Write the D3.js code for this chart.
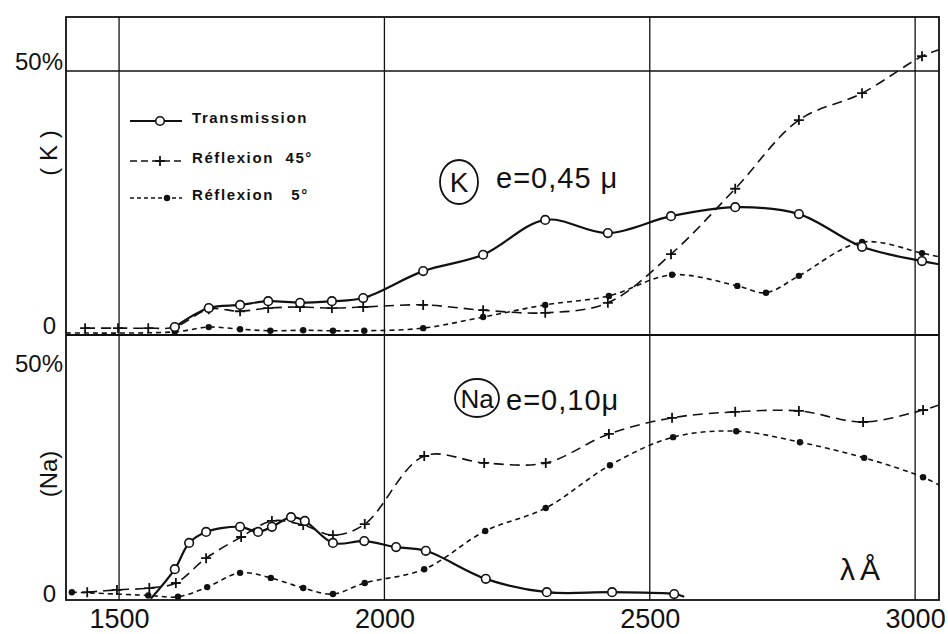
<!DOCTYPE html>
<html>
<head>
<meta charset="utf-8">
<script src="https://cdn.jsdelivr.net/npm/d3@7"></script>
<style>
body { margin: 0; background: #fff; }
svg { display: block; font-family: "Liberation Sans", Arial, sans-serif; }
</style>
</head>
<body>
<svg id="chart" width="948" height="634"></svg>
<script>
// wavelength ticks (Angstrom) and percent ticks
const xTicks = [1500, 2000, 2500, 3000];
const yTicks = [0, 50];

// --- K, e = 0,45 micron (top panel) ---
const kTransW = [1605, 1669, 1728, 1781, 1841, 1901, 1960, 2073, 2186, 2303, 2421, 2540, 2661, 2781, 2900, 3013, 3045];
const kTransV = [1.5, 5.1, 5.7, 6.4, 6.1, 6.4, 7.0, 12.1, 15.2, 21.8, 19.3, 22.5, 24.2, 22.9, 16.7, 14.0, 13.4];

const kRef45W = [1436, 1498, 1555, 1605, 1669, 1728, 1781, 1841, 1901, 1960, 2073, 2186, 2303, 2421, 2540, 2661, 2781, 2900, 3013, 3045];
const kRef45V = [1.3, 1.3, 1.3, 1.5, 4.9, 4.5, 5.1, 5.3, 5.1, 5.3, 5.7, 4.7, 4.2, 6.1, 15.3, 27.7, 40.7, 45.8, 52.8, 54.0];

const kRef5W = [1400, 1605, 1669, 1728, 1785, 1847, 1903, 1962, 2073, 2186, 2303, 2423, 2542, 2665, 2719, 2781, 2900, 3013, 3045];
const kRef5V = [0.4, 0.6, 1.5, 1.1, 0.8, 0.9, 0.8, 0.8, 1.3, 3.4, 5.7, 7.4, 11.4, 9.3, 8.0, 11.2, 17.6, 15.5, 14.8];

// --- Na, e = 0,10 micron (bottom panel) ---
const naTransW = [1560, 1605, 1632, 1664, 1728, 1762, 1788, 1824, 1850, 1903, 1962, 2022, 2078, 2191, 2306, 2429, 2546, 2565];
const naTransV = [0.3, 6.7, 12.4, 14.8, 15.9, 14.8, 15.9, 18.0, 17.2, 12.4, 12.8, 11.5, 10.7, 4.6, 1.7, 1.7, 1.3, 0.7];

const naRef45W = [1440, 1496, 1557, 1607, 1664, 1730, 1788, 1847, 1903, 1963, 2075, 2188, 2304, 2423, 2542, 2661, 2781, 2902, 3015, 3045];
const naRef45V = [1.7, 2.2, 2.6, 3.7, 9.1, 13.7, 17.2, 16.3, 14.1, 16.5, 31.3, 29.8, 29.8, 36.1, 39.6, 40.9, 41.1, 38.7, 41.3, 42.4];

const naRef5W = [1411, 1555, 1611, 1666, 1728, 1786, 1847, 1903, 1963, 2075, 2190, 2304, 2425, 2544, 2663, 2783, 2904, 3015, 3045];
const naRef5V = [1.7, 1.0, 0.7, 2.8, 5.9, 4.8, 2.6, 1.3, 3.7, 6.7, 15.0, 20.0, 29.3, 35.4, 36.7, 34.3, 30.9, 26.7, 25.0];

// points where the curve only runs on, without a drawn marker
const unmarked = [1400, 1560, 2565, 3045];

const legendLabels = ["Transmission", "Réflexion  45°", "Réflexion   5°"];

const svg = d3.select("#chart");

const x = d3.scaleLinear().domain([1400, 3045]).range([66, 939]);
const yTop = d3.scaleLinear().domain([0, 50]).range([335, 71]);
const yBot = d3.scaleLinear().domain([0, 50]).range([600, 370]);

const frameTop = 17, frameMid = 335, frameBot = 600;

// clip areas for the two panels
const defs = svg.append("defs");
defs.append("clipPath").attr("id", "clipTop").append("rect")
    .attr("x", x.range()[0]).attr("y", frameTop)
    .attr("width", x.range()[1] - x.range()[0]).attr("height", frameMid - frameTop);
defs.append("clipPath").attr("id", "clipBot").append("rect")
    .attr("x", x.range()[0]).attr("y", frameMid)
    .attr("width", x.range()[1] - x.range()[0]).attr("height", frameBot - frameMid);

// grid: vertical lines through both panels, 50% line in the top one
svg.append("g").selectAll("line")
    .data(xTicks)
    .enter().append("line")
    .attr("x1", d => x(d)).attr("x2", d => x(d))
    .attr("y1", frameTop).attr("y2", frameBot)
    .style("stroke", "#111").style("stroke-width", 1.3);

svg.append("line")
    .attr("x1", x.range()[0]).attr("x2", x.range()[1])
    .attr("y1", yTop(50)).attr("y2", yTop(50))
    .style("stroke", "#111").style("stroke-width", 1.3);

// frame
svg.append("rect")
    .attr("x", x.range()[0]).attr("y", frameTop)
    .attr("width", x.range()[1] - x.range()[0]).attr("height", frameBot - frameTop)
    .style("fill", "none").style("stroke", "#111").style("stroke-width", 1.8);

svg.append("line")
    .attr("x1", x.range()[0]).attr("x2", x.range()[1])
    .attr("y1", frameMid).attr("y2", frameMid)
    .style("stroke", "#111").style("stroke-width", 1.8);

// axes
const xAxis = svg.append("g")
    .attr("transform", `translate(0, ${frameBot})`)
    .call(d3.axisBottom(x).tickValues(xTicks).tickSize(0).tickPadding(9).tickFormat(d3.format("d")));
xAxis.select(".domain").remove();
xAxis.selectAll("text").style("font-size", "27px").style("fill", "#111");

function yAxis(scale, dy) {
    const g = svg.append("g")
        .attr("transform", `translate(${x.range()[0]}, 0)`)
        .call(d3.axisLeft(scale).tickValues(yTicks).tickSize(0).tickPadding(3)
            .tickFormat(d => d === 0 ? "0" : d + "%"));
    g.select(".domain").remove();
    g.selectAll("text")
        .attr("dy", dy)
        .attr("x", d => d === 0 ? -10 : -3)
        .style("font-size", "24px").style("fill", "#111");
}
yAxis(yTop, "-0.08em");
yAxis(yBot, "0.08em");

// panel labels (rotated)
svg.append("text")
    .attr("transform", "translate(48, 153) rotate(-90)")
    .attr("text-anchor", "middle").attr("dominant-baseline", "central")
    .style("font-size", "24px").style("fill", "#111")
    .text("( K )");
svg.append("text")
    .attr("transform", "translate(48, 474) rotate(-90)")
    .attr("text-anchor", "middle").attr("dominant-baseline", "central")
    .style("font-size", "24px").style("fill", "#111")
    .text("(Na)");

// series
const styles = {
    trans: {dash: null, width: 2.2},
    ref45: {dash: "10,6", width: 1.6},
    ref5: {dash: "5,4", width: 1.6}
};

function pts(w, v) {
    return w.map((d, i) => ({w: d, v: v[i]}));
}

const line = d3.line().curve(d3.curveCatmullRom.alpha(0.5));

function drawSeries(data, yScale, clip, kind) {
    const st = styles[kind];
    const g = svg.append("g").attr("clip-path", `url(#${clip})`);
    g.append("path")
        .datum(data)
        .attr("d", line.x(d => x(d.w)).y(d => yScale(d.v)))
        .style("fill", "none")
        .style("stroke", "#111")
        .style("stroke-width", st.width)
        .style("stroke-dasharray", st.dash);

    const marked = data.filter(d => unmarked.indexOf(d.w) < 0);
    drawMarkers(g, marked.map(d => [x(d.w), yScale(d.v)]), kind);
}

function drawMarkers(g, xy, kind) {
    if (kind === "trans") {
        g.selectAll(null).data(xy).enter().append("circle")
            .attr("cx", d => d[0]).attr("cy", d => d[1]).attr("r", 4.3)
            .style("fill", "#fff").style("stroke", "#111").style("stroke-width", 1.6);
    } else if (kind === "ref45") {
        g.selectAll(null).data(xy).enter().append("path")
            .attr("d", d => `M${d[0] - 5},${d[1]}H${d[0] + 5}M${d[0]},${d[1] - 5}V${d[1] + 5}`)
            .style("stroke", "#111").style("stroke-width", 1.8);
    } else {
        g.selectAll(null).data(xy).enter().append("circle")
            .attr("cx", d => d[0]).attr("cy", d => d[1]).attr("r", 3.2)
            .style("fill", "#111");
    }
}

drawSeries(pts(kRef5W, kRef5V), yTop, "clipTop", "ref5");
drawSeries(pts(kRef45W, kRef45V), yTop, "clipTop", "ref45");
drawSeries(pts(kTransW, kTransV), yTop, "clipTop", "trans");

drawSeries(pts(naRef5W, naRef5V), yBot, "clipBot", "ref5");
drawSeries(pts(naRef45W, naRef45V), yBot, "clipBot", "ref45");
drawSeries(pts(naTransW, naTransV), yBot, "clipBot", "trans");

// legend
const kinds = ["trans", "ref45", "ref5"];
const legend = svg.append("g").attr("transform", "translate(130, 0)");
kinds.forEach((k, i) => {
    const ly = [121, 161, 198][i];
    const st = styles[k];
    legend.append("line")
        .attr("x1", 0).attr("x2", 52).attr("y1", ly).attr("y2", ly)
        .style("stroke", "#111").style("stroke-width", st.width)
        .style("stroke-dasharray", k === "trans" ? null : (k === "ref45" ? "7,4" : "4,3"));
    drawMarkers(legend, [[k === "ref5" ? 37 : 30, ly]], k);
    legend.append("text")
        .attr("x", 62).attr("y", ly + 2)
        .style("font-size", "15px").style("font-weight", "bold")
        .style("letter-spacing", "1.6px").style("fill", "#111")
        .style("white-space", "pre")
        .text(legendLabels[i]);
});

// sample annotations
svg.append("ellipse")
    .attr("cx", 459).attr("cy", 182).attr("rx", 19).attr("ry", 22)
    .style("fill", "none").style("stroke", "#111").style("stroke-width", 1.8);
svg.append("text").attr("x", 459).attr("y", 192).attr("text-anchor", "middle")
    .style("font-size", "28px").style("fill", "#111").text("K");
svg.append("text").attr("x", 496).attr("y", 188)
    .style("font-size", "29px").style("letter-spacing", "1px").style("fill", "#111")
    .text("e=0,45 μ");

svg.append("ellipse")
    .attr("cx", 477).attr("cy", 398).attr("rx", 22).attr("ry", 19)
    .style("fill", "none").style("stroke", "#111").style("stroke-width", 1.8);
svg.append("text").attr("x", 477).attr("y", 408).attr("text-anchor", "middle")
    .style("font-size", "26px").style("fill", "#111").text("Na");
svg.append("text").attr("x", 506).attr("y", 410)
    .style("font-size", "29px").style("letter-spacing", "1px").style("fill", "#111")
    .text("e=0,10μ");

svg.append("text").attr("x", 840).attr("y", 580)
    .style("font-size", "30px").style("letter-spacing", "5px").style("fill", "#111")
    .text("λÅ");
</script>
</body>
</html>
